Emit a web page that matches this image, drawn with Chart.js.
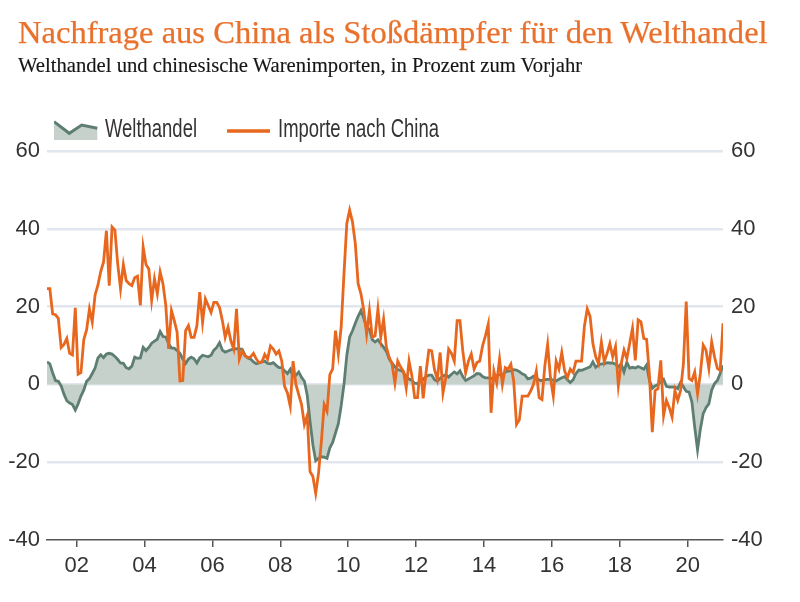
<!DOCTYPE html>
<html><head><meta charset="utf-8">
<script src="https://cdn.jsdelivr.net/npm/chart.js@4.4.0/dist/chart.umd.min.js"></script>
<style>
body{margin:0;background:#fff;}
#wrap{position:relative;width:800px;height:602px;overflow:hidden;background:#fff;}
#title{position:absolute;left:18px;top:17px;font-family:'Liberation Serif',serif;font-size:31px;line-height:31px;color:#E9712C;white-space:nowrap;-webkit-text-stroke:0.25px #E9712C;}
#sub{position:absolute;left:18px;top:55px;font-family:'Liberation Serif',serif;font-size:20px;line-height:20px;color:#151515;white-space:nowrap;-webkit-text-stroke:0.15px #151515;}
.lg{position:absolute;top:116px;font-family:'Liberation Sans',sans-serif;font-size:25px;line-height:25px;color:#333;white-space:nowrap;transform-origin:0 0;}
#c{position:absolute;left:0;top:0;}
</style></head>
<body><div id="wrap">
<canvas id="c" width="800" height="602"></canvas>
<div id="title">Nachfrage aus China als Stoßdämpfer für den Welthandel</div>
<div id="sub">Welthandel und chinesische Warenimporten, in Prozent zum Vorjahr</div>
<svg style="position:absolute;left:54px;top:120px" width="45" height="21">
<polygon points="0,1.7 15.3,13.3 27.7,5 43.3,8.3 43.3,20 0,20" fill="#C6D1CC"/>
<polyline points="0,1.7 15.3,13.3 27.7,5 43.3,8.3" fill="none" stroke="#5E7E72" stroke-width="3"/>
</svg>
<div class="lg" id="lg1" style="left:105px">Welthandel</div>
<svg style="position:absolute;left:227px;top:128px" width="44" height="6"><line x1="0" y1="3" x2="43" y2="3" stroke="#E8671E" stroke-width="3.3"/></svg>
<div class="lg" id="lg2" style="left:278px">Importe nach China</div>
</div>
<script>
// Monthly data, Feb 2001 .. Jan 2021 (y/y change in %)
const startYear = 2001, startMonth = 2;
const welthandel = [
5.8,5.3,3.0,1.0,0.8,-0.4,-2.5,-4.2,-4.8,-5.2,
-6.6,-5.0,-3.0,-1.5,0.8,1.5,2.8,4.2,6.8,7.6,
6.9,7.8,8.0,7.8,7.2,6.4,5.5,5.4,4.3,4.0,
4.7,7.0,6.7,6.8,9.5,8.7,9.5,10.6,11.1,11.6,
13.6,12.3,12.2,10.5,9.3,9.3,8.7,8.0,6.5,5.4,
6.5,7.0,6.6,5.5,6.8,7.5,7.3,7.1,7.5,8.8,
9.5,10.7,8.8,8.3,8.6,8.9,9.1,9.2,9.1,9.0,
7.5,6.8,6.5,5.8,5.3,5.5,5.8,6.0,5.4,5.3,
5.6,4.9,4.3,4.3,3.5,2.8,3.9,2.0,2.3,3.2,
1.8,0.8,-2.8,-9.5,-15.5,-19.6,-19.0,-18.6,-18.7,-19.0,
-16.3,-14.9,-12.5,-10.1,-5.5,0.0,7.5,12.2,13.8,15.7,
17.5,19.0,17.0,14.6,14.2,11.5,10.9,11.5,10.5,9.5,
8.5,6.5,5.5,4.5,3.8,3.6,3.2,1.8,1.4,1.0,
0.3,0.2,0.8,1.3,2.0,2.4,2.4,1.2,0.8,1.6,
2.2,2.5,1.9,2.6,3.2,2.7,3.5,2.0,1.0,1.4,
1.8,2.2,2.8,2.7,2.0,1.7,1.7,1.6,1.3,2.3,
2.5,2.3,3.2,3.4,3.5,3.8,3.7,3.3,2.7,2.4,
1.4,1.6,2.1,1.7,1.1,1.0,1.2,1.3,1.3,1.1,
0.9,1.3,1.7,2.0,1.2,0.5,1.2,2.8,3.7,3.6,
3.9,4.2,4.5,5.8,4.4,5.0,5.3,5.3,5.6,5.5,
5.5,5.2,4.5,5.3,3.2,5.7,4.2,4.4,4.2,4.6,
4.3,3.9,5.0,1.0,-1.0,-0.4,0.0,0.6,1.3,-0.5,
-0.7,-0.7,-0.7,-1.1,0.5,-0.6,-1.8,-2.0,-4.5,-11.0,
-16.8,-11.5,-7.5,-6.0,-5.0,-1.5,0.2,1.0,2.8,4.9
];
const importe = [
24.6,24.6,18.1,17.9,17.0,9.5,10.3,11.8,8.0,7.6,
19.7,2.6,3.0,11.5,14.0,19.4,16.0,23.0,25.5,29.0,
31.5,39.5,25.4,40.5,39.7,31.0,24.6,30.8,26.7,25.9,
25.4,27.4,27.8,20.3,35.3,30.8,29.7,21.6,27.2,23.3,
28.9,25.9,20.3,9.1,19.0,16.4,13.4,0.9,1.0,13.8,
15.1,12.1,12.1,15.1,23.7,15.9,22.0,20.3,18.5,21.1,
21.1,19.8,16.4,12.1,14.7,11.2,9.1,19.4,6.5,8.6,
7.3,6.9,7.1,8.0,6.5,5.6,5.8,7.7,6.5,9.9,
9.1,7.8,8.6,6.0,-0.5,-2.2,-5.6,6.0,0.0,-2.6,
-5.2,-10.3,-8.0,-22.4,-23.7,-28.0,-22.8,-14.7,-5.2,-6.9,
2.5,4.0,13.8,7.8,14.7,28.4,41.4,44.8,41.8,36.2,
25.9,23.3,19.0,12.9,19.0,12.1,12.5,19.4,12.1,16.8,
9.5,6.9,5.2,0.4,6.0,4.5,3.4,-0.9,6.0,2.2,
-3.4,-3.4,4.7,-3.6,3.0,8.8,8.6,3.8,1.3,8.2,
-2.2,1.7,9.1,8.0,6.0,16.4,16.4,8.6,3.0,6.0,
7.8,3.9,5.6,6.0,9.9,12.5,15.5,-7.3,3.4,0.4,
6.5,0.0,4.3,3.9,5.2,0.9,-10.3,-9.1,-3.0,-3.0,
-3.0,-1.7,0.0,3.4,-3.4,-3.9,4.7,10.3,1.7,-3.0,
6.0,3.9,8.2,3.5,1.7,3.9,3.0,6.0,6.0,6.0,
15.0,19.4,17.5,10.5,7.1,5.3,10.9,5.8,7.9,10.5,
7.1,9.7,-0.3,5.3,8.8,6.6,10.5,14.4,6.2,16.6,
16.1,11.8,11.6,2.3,-12.3,-1.6,-1.1,6.2,-8.0,-4.1,
-5.9,-8.4,-1.6,-4.1,-1.6,5.3,21.3,1.5,1.0,3.2,
-2.4,2.8,10.1,8.8,4.1,10.9,7.1,4.1,3.6,15.7
];
const tickYears = [2002,2004,2006,2008,2010,2012,2014,2016,2018,2020];
const tickLabels = ['02','04','06','08','10','12','14','16','18','20'];
const yTicks = [-40,-20,0,20,40,60];

// fit headings to reference widths
function fit(id, target){
  const el = document.getElementById(id);
  let fs = parseFloat(getComputedStyle(el).fontSize);
  const w = el.scrollWidth;
  if (w > 0) { fs = fs * target / w; el.style.fontSize = fs + 'px'; }
}
function squeeze(id, target){
  const el = document.getElementById(id);
  const w = el.getBoundingClientRect().width;
  if (w > 0) el.style.transform = 'scaleX(' + (target / w) + ')';
}
fit('title', 750); fit('sub', 565);
squeeze('lg1', 92); squeeze('lg2', 161);

const xs = welthandel.map((_, i) => startYear + (startMonth - 1 + i + 0.5) / 12);
const toPts = arr => arr.map((v, i) => ({x: xs[i], y: v}));
const tickFont = {family: "'Liberation Sans',sans-serif", size: 22};

new Chart(document.getElementById('c'), {
  type: 'line',
  data: {datasets: [
    {label: 'Importe nach China', data: toPts(importe), borderColor: '#E8671E', borderWidth: 2.8,
     pointRadius: 0, fill: false, tension: 0, order: 0},
    {label: 'Welthandel', data: toPts(welthandel), borderColor: '#5E7E72', backgroundColor: '#C6D1CC',
     borderWidth: 2.8, pointRadius: 0, fill: 'origin', tension: 0, order: 1}
  ]},
  options: {
    responsive: false, animation: false,
    layout: {padding: {top: 151, left: 0, right: 0, bottom: 0}},
    plugins: {legend: {display: false}, tooltip: {enabled: false}},
    scales: {
      x: {type: 'linear', min: xs[0], max: xs[xs.length - 1],
        afterBuildTicks: s => { s.ticks = tickYears.map(v => ({value: v})); },
        ticks: {autoSkip: false, maxRotation: 0, font: tickFont, color: '#333', padding: 6,
          callback: v => { const k = tickYears.indexOf(v); return k >= 0 ? tickLabels[k] : ''; }},
        grid: {display: true, drawOnChartArea: false, drawTicks: true, tickLength: 7, color: '#555', lineWidth: 1.5},
        border: {display: true, color: '#555', width: 1.5},
        afterFit: s => { s.height = 62; }
      },
      y: {position: 'left', min: -40, max: 60,
        afterBuildTicks: s => { s.ticks = yTicks.map(v => ({value: v})); },
        ticks: {font: tickFont, color: '#333', padding: 7},
        grid: {drawTicks: false, lineWidth: 2.5, color: c => c.tick && c.tick.value === -40 ? 'rgba(0,0,0,0)' : '#E2E6EE'},
        border: {display: false},
        afterFit: s => { s.width = 47; }
      },
      y2: {position: 'right', min: -40, max: 60,
        afterBuildTicks: s => { s.ticks = yTicks.map(v => ({value: v})); },
        ticks: {font: tickFont, color: '#333', padding: 8},
        grid: {display: false, drawTicks: false},
        border: {display: false},
        afterFit: s => { s.width = 77; }
      }
    }
  }
});
</script>
</body></html>
